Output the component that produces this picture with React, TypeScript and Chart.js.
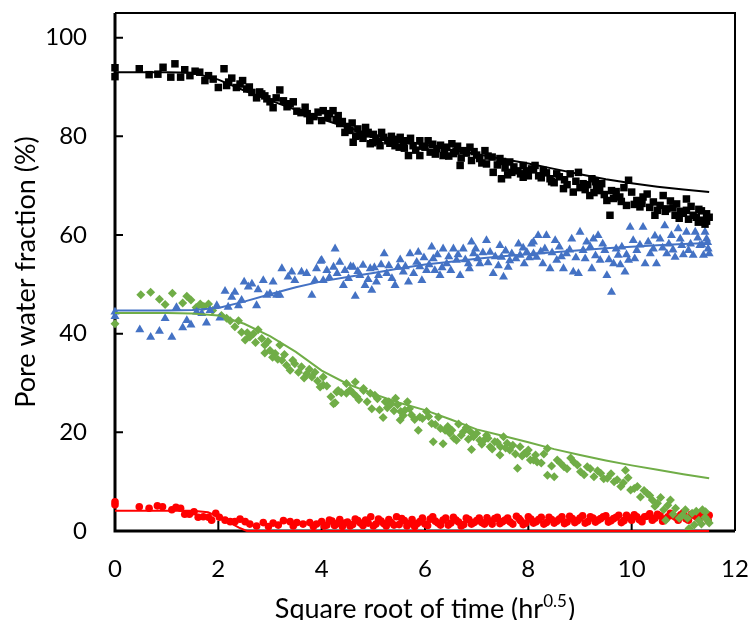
import React, { useEffect, useRef } from "react";
import { Chart, registerables } from "chart.js";
Chart.register(...registerables);

const xTicks = [0, 2, 4, 6, 8, 10, 12];
const yTicks = [0, 20, 40, 60, 80, 100];
const xTitleMain = "Square root of time (hr";
const xTitleSup = "0.5";
const xTitleEnd = ")";
const yTitle = "Pore water fraction (%)";

const blackPts: [number, number][] = [
  [0, 93.9], [0, 92.1], [0.47, 93.7], [0.66, 92.5], [0.83, 92.6], [0.93, 94.0], [1.08, 92.0], [1.16, 94.7], [1.27, 92.0], [1.35, 93.5],
  [1.45, 92.3], [1.55, 93.2], [1.64, 93.0], [1.74, 91.3], [1.81, 92.3], [1.9, 91.6], [2.0, 89.9], [2.11, 93.7], [2.16, 90.3], [2.26, 91.8],
  [2.35, 89.9], [2.47, 91.3], [2.55, 89.6], [2.65, 88.9], [2.74, 87.8], [2.84, 88.6], [2.94, 87.6], [3.06, 85.8], [3.19, 89.4], [3.26, 87.2],
  [3.39, 86.6], [3.52, 85.1], [3.68, 85.9], [3.77, 83.2], [3.93, 84.9], [4.0, 83.2], [4.03, 85.2], [4.12, 83.8], [4.22, 85.2], [4.32, 84.2],
  [4.35, 82.6], [4.45, 80.8], [4.5, 82.0], [4.59, 82.7], [4.61, 78.8], [4.7, 81.5], [4.74, 80.2], [4.87, 80.5], [4.9, 80.8], [4.94, 78.5],
  [4.99, 78.7], [5.05, 79.6], [5.13, 78.1], [5.16, 80.8], [5.28, 79.1], [5.35, 80.0], [5.42, 78.1], [5.52, 79.8], [5.6, 77.6], [5.65, 79.1],
  [5.68, 76.1], [5.77, 78.1], [5.9, 76.1], [5.9, 79.1], [6.0, 77.8], [6.06, 79.1], [6.1, 76.8], [6.23, 77.5], [6.3, 78.2], [6.35, 76.1],
  [6.42, 77.8], [6.52, 78.5], [6.55, 76.5], [6.6, 77.0], [6.68, 74.1], [6.74, 77.1], [6.87, 77.8], [6.9, 75.1], [7.0, 76.2], [7.06, 75.5],
  [7.16, 77.1], [7.19, 74.4], [7.3, 75.8], [7.32, 72.7], [7.45, 75.5], [7.48, 71.4], [7.55, 73.6], [7.64, 74.8], [7.68, 72.7], [7.8, 73.0],
  [7.9, 71.7], [7.9, 74.1], [8.06, 73.4], [8.13, 74.1], [8.2, 72.0], [8.29, 73.1], [8.42, 71.4], [8.5, 70.6], [8.55, 72.4], [8.68, 69.4],
  [8.7, 71.2], [8.81, 72.4], [8.87, 68.7], [8.97, 72.7], [9.06, 70.4], [9.1, 69.2], [9.19, 68.0], [9.23, 71.4], [9.3, 70.8], [9.32, 69.7],
  [9.42, 70.4], [9.52, 67.0], [9.58, 64.0], [9.61, 69.0], [9.7, 68.8], [9.77, 67.7], [9.85, 69.6], [9.9, 66.0], [9.94, 71.1], [10.0, 68.7],
  [10.1, 67.0], [10.16, 65.7], [10.22, 67.7], [10.3, 68.3], [10.42, 66.7], [10.45, 64.0], [10.55, 66.0], [10.61, 68.0], [10.68, 65.3], [10.75, 66.9],
  [10.84, 64.0], [10.87, 66.3], [10.95, 64.8], [11.06, 67.3], [11.06, 65.0], [11.15, 65.8], [11.19, 64.0], [11.29, 62.6], [11.35, 64.9], [11.39, 63.0],
  [11.42, 62.2], [11.45, 64.3], [11.5, 63.6],
  [4.15, 84.6], [4.28, 83.4], [4.4, 83.0], [4.55, 81.2], [4.66, 80.0], [4.8, 79.6], [4.85, 81.8], [5.0, 80.4], [5.1, 79.0], [5.2, 79.8],
  [5.32, 78.6], [5.45, 79.4], [5.5, 77.8], [5.58, 78.8], [5.72, 79.6], [5.82, 77.2], [5.95, 78.0], [6.15, 78.4], [6.2, 76.4], [6.38, 77.2],
  [6.46, 76.0], [6.63, 78.0], [6.7, 75.6], [6.8, 76.6], [6.95, 76.9], [7.1, 74.6], [7.22, 76.0], [7.4, 74.2], [7.5, 74.9], [7.6, 72.2],
  [7.72, 73.8], [7.85, 72.4], [7.96, 73.0], [8.0, 72.0], [8.1, 73.2], [8.25, 71.6], [8.35, 72.6], [8.45, 70.8], [8.6, 71.8], [8.75, 70.2],
  [8.92, 70.9], [9.0, 69.6], [9.15, 70.2], [9.27, 68.6], [9.38, 69.0], [9.47, 68.2], [9.65, 67.4], [9.8, 66.8], [10.05, 66.2], [10.2, 66.4],
  [10.35, 65.6], [10.5, 65.0], [10.65, 64.8], [10.8, 65.5], [10.92, 63.4], [11.0, 64.4], [11.1, 63.2], [11.25, 63.6], [11.3, 65.2], [11.45, 62.8],
  [2.2, 91.0], [2.42, 90.6], [2.6, 90.0], [2.8, 89.0], [2.9, 88.2], [3.0, 87.0], [3.12, 87.8], [3.33, 86.0], [3.45, 87.0], [3.6, 84.8],
  [3.72, 84.6], [3.85, 84.0],
];

const bluePts: [number, number][] = [
  [0, 44.4], [0, 43.5], [0.48, 40.8], [0.69, 39.3], [0.86, 40.5], [0.97, 43.1], [1.1, 39.3], [1.19, 45.3], [1.31, 41.2], [1.39, 42.7],
  [1.47, 41.8], [1.58, 44.4], [1.68, 44.1], [1.77, 42.2], [1.84, 44.7], [1.97, 45.7], [2.03, 43.2], [2.13, 48.6], [2.19, 45.4], [2.26, 47.4],
  [2.32, 48.4], [2.39, 45.7], [2.45, 46.8], [2.5, 50.5], [2.58, 49.5], [2.65, 50.1], [2.74, 45.7], [2.77, 48.9], [2.87, 50.8], [2.94, 47.8],
  [3.0, 48.1], [3.06, 50.5], [3.13, 47.8], [3.19, 47.8], [3.23, 53.2], [3.35, 51.5], [3.42, 52.5], [3.48, 50.8], [3.61, 52.5], [3.71, 52.2],
  [3.81, 47.8], [3.87, 50.8], [3.9, 53.2], [3.98, 54.7], [4.03, 50.8], [4.0, 54.9], [4.1, 52.8], [4.23, 53.5], [4.26, 57.2], [4.35, 54.5],
  [4.42, 49.8], [4.52, 51.2], [4.61, 53.5], [4.65, 47.6], [4.74, 51.8], [4.84, 49.8], [4.94, 53.2], [4.97, 48.8], [5.06, 50.5], [5.1, 51.8],
  [5.21, 56.2], [5.26, 52.2], [5.42, 49.8], [5.48, 53.5], [5.58, 52.5], [5.68, 50.5], [5.71, 56.2], [5.84, 54.5], [5.87, 56.5], [5.94, 50.8],
  [6.03, 52.8], [6.13, 57.6], [6.16, 55.2], [6.19, 52.8], [6.29, 51.8], [6.35, 57.2], [6.42, 54.2], [6.55, 57.2], [6.61, 54.9], [6.68, 51.8],
  [6.74, 57.2], [6.84, 54.2], [6.9, 58.6], [6.94, 56.2], [7.06, 54.2], [7.19, 58.9], [7.26, 56.5], [7.32, 52.2], [7.45, 57.9], [7.48, 55.5],
  [7.52, 51.5], [7.61, 53.5], [7.68, 56.2], [7.81, 58.2], [7.84, 55.9], [7.97, 56.5], [8.06, 58.2], [8.1, 56.2], [8.1, 58.6], [8.19, 59.9],
  [8.16, 55.5], [8.32, 57.2], [8.35, 59.9], [8.42, 53.2], [8.52, 58.9], [8.55, 54.9], [8.68, 53.2], [8.74, 56.2], [8.84, 59.2], [8.87, 52.5],
  [8.97, 52.2], [9.0, 60.6], [9.06, 56.9], [9.13, 58.6], [9.23, 53.2], [9.26, 59.2], [9.35, 59.9], [9.39, 54.9], [9.48, 56.9], [9.52, 51.8],
  [9.61, 48.4], [9.65, 54.2], [9.74, 55.9], [9.81, 57.6], [9.87, 52.5], [9.94, 54.9], [9.97, 61.6], [10.03, 58.9], [10.1, 56.9], [10.22, 61.6],
  [10.26, 54.2], [10.32, 58.6], [10.42, 57.2], [10.48, 54.2], [10.55, 59.2], [10.64, 61.9], [10.68, 56.2], [10.77, 59.9], [10.84, 55.5], [10.9, 61.3],
  [10.97, 57.9], [11.06, 60.6], [11.1, 56.9], [11.19, 55.9], [11.23, 60.6], [11.32, 57.9], [11.39, 55.9], [11.42, 60.6], [11.45, 59.2], [11.48, 57.2],
  [11.5, 56.2], [11.47, 58.5],
  [4.15, 51.4], [4.3, 52.2], [4.45, 52.8], [4.56, 53.6], [4.7, 52.6], [4.8, 53.9], [4.9, 51.0], [5.02, 53.4], [5.15, 54.0], [5.3, 53.8],
  [5.36, 51.2], [5.52, 55.0], [5.62, 53.6], [5.78, 52.2], [5.9, 53.6], [5.98, 55.4], [6.08, 54.0], [6.24, 56.0], [6.33, 53.4], [6.46, 55.6],
  [6.5, 52.8], [6.64, 56.0], [6.78, 55.0], [6.86, 53.2], [6.98, 57.2], [7.02, 55.2], [7.12, 56.4], [7.22, 54.4], [7.36, 55.6], [7.42, 53.8],
  [7.56, 56.8], [7.64, 54.8], [7.76, 55.2], [7.9, 57.4], [7.92, 54.2], [8.02, 55.4], [8.24, 56.6], [8.28, 54.2], [8.46, 56.4], [8.6, 57.6],
  [8.64, 55.6], [8.8, 57.0], [8.92, 55.4], [9.1, 55.2], [9.2, 57.6], [9.3, 55.8], [9.44, 58.2], [9.56, 55.0], [9.7, 57.2], [9.78, 54.0],
  [9.9, 56.0], [10.06, 55.2], [10.16, 58.0], [10.36, 56.2], [10.45, 59.8], [10.6, 57.4], [10.72, 58.2], [10.8, 57.0], [10.94, 59.2], [11.0, 56.0],
  [11.14, 58.2], [11.28, 59.4], [11.36, 58.0],
];

const greenPts: [number, number][] = [
  [0, 42.0], [0.5, 47.9], [0.69, 48.4], [0.86, 47.0], [0.97, 45.9], [1.11, 48.2], [1.31, 46.2], [1.39, 47.6], [1.47, 46.8], [1.57, 45.3],
  [1.65, 46.0], [1.72, 45.5], [1.81, 46.0], [1.89, 44.7], [2.06, 43.7], [2.16, 43.1], [2.23, 42.6], [2.32, 41.4], [2.39, 42.6], [2.45, 40.3],
  [2.52, 38.7], [2.61, 39.3], [2.68, 40.0], [2.77, 40.8], [2.84, 39.0], [2.9, 37.7], [2.9, 36.1], [3.0, 36.6], [3.1, 36.0], [3.19, 37.7],
  [3.23, 34.6], [3.32, 33.6], [3.39, 32.6], [3.48, 33.9], [3.55, 32.2], [3.61, 33.3], [3.71, 31.9], [3.81, 31.2], [3.87, 32.2], [3.97, 29.2],
  [4.03, 31.2], [4.03, 29.6], [4.23, 25.8], [4.26, 26.0], [4.29, 28.2], [4.32, 28.5], [4.48, 29.9], [4.48, 27.9], [4.61, 27.9], [4.65, 30.2],
  [4.68, 27.2], [4.81, 28.9], [4.81, 28.5], [4.94, 27.9], [4.97, 24.8], [5.03, 27.5], [5.19, 23.0], [5.23, 26.2], [5.3, 26.2], [5.35, 25.8],
  [5.43, 26.9], [5.52, 22.5], [5.53, 24.2], [5.61, 24.5], [5.66, 26.2], [5.74, 23.5], [5.87, 20.4], [5.9, 23.1], [6.03, 24.2], [6.13, 21.8],
  [6.16, 18.1], [6.26, 23.1], [6.35, 17.7], [6.39, 20.4], [6.48, 19.8], [6.56, 18.8], [6.61, 18.4], [6.65, 21.7], [6.74, 20.1], [6.88, 20.1],
  [6.9, 16.5], [6.94, 19.1], [7.06, 18.4], [7.14, 18.4], [7.19, 19.4], [7.26, 17.1], [7.35, 18.1], [7.45, 15.4], [7.46, 17.1], [7.52, 19.1],
  [7.59, 17.8], [7.64, 16.4], [7.79, 12.7], [7.84, 17.1], [7.92, 15.7], [7.97, 15.7], [8.04, 14.4], [8.1, 14.4], [8.17, 14.0], [8.37, 16.7],
  [8.37, 11.3], [8.5, 11.0], [8.56, 14.4], [8.69, 13.0], [8.88, 14.0], [9.01, 12.0], [9.14, 13.0], [9.27, 11.0], [9.4, 11.7], [9.53, 10.7],
  [9.66, 10.0], [9.79, 9.0], [9.88, 12.3], [9.98, 8.3], [10.11, 9.0], [10.17, 6.9], [10.3, 7.6], [10.4, 6.3], [10.5, 5.6], [10.62, 4.3],
  [10.66, 2.2], [10.75, 6.3], [10.85, 4.6], [10.92, 2.6], [11.04, 4.3], [11.11, 0.5], [11.17, 3.6], [11.21, 1.2], [11.3, 2.2], [11.37, 4.3],
  [11.43, 3.9], [11.47, 2.2], [11.5, 1.6],
  [4.1, 29.4], [4.18, 27.2], [4.38, 28.0], [4.55, 28.6], [4.72, 26.6], [4.88, 26.2], [5.08, 26.8], [5.12, 24.6], [5.27, 25.0], [5.4, 24.4],
  [5.47, 25.6], [5.58, 23.4], [5.7, 24.8], [5.8, 22.6], [5.95, 22.8], [6.07, 23.2], [6.2, 21.6], [6.3, 20.8], [6.44, 21.2], [6.52, 20.4],
  [6.7, 19.4], [6.8, 21.0], [6.84, 18.6], [7.0, 19.8], [7.1, 17.6], [7.22, 18.8], [7.3, 16.6], [7.4, 18.0], [7.56, 16.8], [7.7, 17.4],
  [7.75, 15.6], [7.88, 15.2], [8.0, 16.4], [8.14, 15.4], [8.25, 13.8], [8.3, 15.6], [8.45, 13.2], [8.62, 13.8], [8.75, 12.6], [8.82, 14.8],
  [8.95, 13.4], [9.08, 11.4], [9.2, 12.6], [9.34, 12.2], [9.46, 10.6], [9.6, 11.6], [9.72, 10.4], [9.84, 9.8], [9.93, 10.8], [10.05, 8.6],
  [10.24, 8.2], [10.35, 7.2], [10.45, 5.0], [10.56, 6.8], [10.7, 5.2], [10.8, 3.4], [10.98, 3.2], [11.08, 2.6], [11.25, 4.0], [11.35, 1.4],
  [11.42, 2.8], [2.56, 40.2], [2.72, 38.2], [2.96, 38.4], [3.05, 35.2], [3.15, 34.8], [3.28, 35.8], [3.44, 34.6], [3.66, 31.0], [3.76, 32.8],
  [3.92, 30.4],
];

const redPts: [number, number][] = [
  [0, 5.9], [0, 5.3], [0.47, 4.9], [0.66, 4.6], [0.82, 5.1], [0.92, 4.9], [1.1, 4.3], [1.18, 4.8], [1.27, 4.6], [1.35, 3.4],
  [1.44, 3.4], [1.53, 3.9], [1.61, 2.8], [1.71, 2.9], [1.81, 2.8], [1.87, 2.2], [1.95, 3.6], [2.02, 2.8], [2.13, 2.2], [2.23, 1.9],
  [2.32, 1.9], [2.42, 2.4], [2.52, 1.9], [2.61, 1.4], [2.74, 1.0], [2.87, 1.7], [2.97, 0.9], [3.06, 1.6], [3.16, 1.2], [3.26, 2.1],
  [3.39, 1.9], [3.45, 1.0], [3.52, 1.7], [3.64, 1.4], [3.77, 1.7], [3.84, 0.9], [3.9, 1.4], [4.0, 1.9], [4.1, 1.2], [4.2, 2.0],
  [4.3, 1.5], [4.4, 0.9], [4.5, 1.8], [4.6, 1.3], [4.7, 2.1], [4.8, 1.1], [4.9, 1.6], [4.95, 2.9], [5.05, 1.4], [5.15, 2.0],
  [5.25, 1.0], [5.35, 1.7], [5.45, 2.9], [5.5, 1.3], [5.6, 2.1], [5.7, 1.5], [5.8, 0.9], [5.9, 1.9], [6.0, 1.4], [6.1, 2.4],
  [6.15, 2.9], [6.25, 1.6], [6.35, 2.2], [6.45, 1.2], [6.55, 2.8], [6.65, 1.8], [6.75, 1.3], [6.85, 2.3], [6.95, 1.7], [7.05, 2.6],
  [7.15, 1.4], [7.25, 2.0], [7.35, 2.5], [7.45, 1.5], [7.55, 2.2], [7.65, 1.8], [7.77, 3.0], [7.85, 2.1], [7.95, 1.6], [8.05, 2.4],
  [8.15, 1.9], [8.25, 2.8], [8.35, 1.7], [8.45, 2.3], [8.55, 2.0], [8.65, 2.9], [8.75, 1.8], [8.85, 2.5], [8.95, 2.1], [9.05, 3.1],
  [9.15, 1.9], [9.25, 2.6], [9.35, 2.2], [9.45, 2.9], [9.55, 1.8], [9.65, 2.5], [9.75, 3.2], [9.85, 2.1], [9.95, 2.7], [10.05, 3.3],
  [10.15, 2.3], [10.25, 2.9], [10.35, 3.5], [10.45, 2.6], [10.55, 3.1], [10.65, 2.4], [10.75, 3.6], [10.85, 2.8], [10.95, 3.3], [11.05, 2.5],
  [11.15, 3.4], [11.25, 2.9], [11.35, 3.6], [11.45, 2.7], [11.5, 3.2],
  [4.05, 1.0], [4.15, 2.2], [4.25, 1.1], [4.35, 2.3], [4.45, 1.6], [4.55, 1.0], [4.65, 2.4], [4.75, 1.6], [4.85, 2.2], [5.0, 1.0],
  [5.1, 2.4], [5.2, 1.5], [5.3, 2.3], [5.4, 1.2], [5.55, 2.5], [5.65, 1.0], [5.75, 2.3], [5.85, 1.5], [5.95, 2.6], [6.05, 1.1],
  [6.2, 2.0], [6.3, 1.2], [6.4, 2.6], [6.5, 1.6], [6.6, 2.2], [6.7, 1.0], [6.8, 2.6], [6.9, 1.4], [7.0, 2.1], [7.1, 1.7],
  [7.2, 2.7], [7.3, 1.4], [7.4, 2.8], [7.5, 1.9], [7.6, 2.6], [7.7, 1.4], [7.82, 2.5], [7.9, 1.3], [8.0, 2.9], [8.1, 1.6],
  [8.2, 2.3], [8.3, 1.4], [8.4, 2.8], [8.5, 1.6], [8.6, 2.4], [8.7, 1.5], [8.8, 3.0], [8.9, 1.7], [9.0, 2.6], [9.1, 1.6],
  [9.2, 2.9], [9.3, 1.8], [9.4, 2.5], [9.5, 3.1], [9.6, 2.1], [9.7, 2.8], [9.8, 1.7], [9.9, 3.2], [10.0, 2.2], [10.1, 2.9],
  [10.2, 1.9], [10.3, 3.0], [10.4, 2.2], [10.5, 3.4], [10.6, 2.0], [10.7, 2.9], [10.8, 3.1], [10.9, 2.2], [11.0, 3.7], [11.1, 2.2],
  [11.2, 3.2], [11.3, 2.4], [11.4, 3.3], [11.48, 2.2],
];

const fitX = [0, 0.5, 1, 1.5, 2, 2.5, 3, 3.5, 4, 4.5, 5, 5.5, 6, 6.5, 7, 7.5, 8, 8.5, 9, 9.5, 10, 10.5, 11, 11.5];
const blackFitY = [93.0, 93.0, 93.0, 92.9, 91.5, 89.3, 87.3, 85.4, 83.5, 81.8, 80.3, 79.2, 78.3, 77.3, 76.4, 75.4, 74.5, 73.4, 72.3, 71.3, 70.5, 69.8, 69.2, 68.7];
const blueFitY = [44.7, 44.7, 44.7, 44.8, 45.2, 46.5, 48.0, 49.4, 50.6, 51.5, 52.3, 53.2, 54.0, 54.6, 55.2, 55.7, 56.1, 56.5, 56.9, 57.3, 57.6, 57.9, 58.2, 58.4];
const greenFitY = [44.2, 44.2, 44.2, 44.1, 43.7, 42.0, 39.5, 36.3, 32.5, 29.8, 27.8, 26.0, 24.5, 22.6, 20.6, 19.3, 18.0, 16.6, 15.4, 14.3, 13.3, 12.4, 11.5, 10.7];
const redFitX = [0, 1.5, 1.8, 2.0, 2.2, 2.4, 2.55, 4, 6, 8, 10, 11.5];
const redFitY = [4.1, 4.1, 3.8, 2.9, 1.8, 0.7, 0, 0, 0, 0, 0, 0];

const FONT = "Lato, 'Open Sans', sans-serif";

const toXY = (pts: [number, number][]) => pts.map(([x, y]) => ({ x, y }));
const zip = (xs: number[], ys: number[]) => xs.map((x, i) => ({ x, y: ys[i] }));

const framePlugin = {
  id: "frame",
  beforeDatasetsDraw(chart: any) {
    const { ctx, chartArea } = chart;
    const { left, right, top, bottom } = chartArea;
    const xs = chart.scales.x;
    const ys = chart.scales.y;
    ctx.save();
    ctx.strokeStyle = "#000";
    ctx.lineWidth = 2;
    ctx.beginPath();
    ctx.moveTo(left, top);
    ctx.lineTo(right, top);
    ctx.lineTo(right, bottom);
    ctx.stroke();
    ctx.lineWidth = 3;
    ctx.beginPath();
    ctx.moveTo(left, top);
    ctx.lineTo(left, bottom);
    ctx.lineTo(right, bottom);
    ctx.stroke();
    ctx.lineWidth = 2;
    ctx.beginPath();
    yTicks.forEach((v) => {
      const p = ys.getPixelForValue(v);
      ctx.moveTo(left, p);
      ctx.lineTo(left + 8, p);
    });
    xTicks.forEach((v) => {
      const p = xs.getPixelForValue(v);
      ctx.moveTo(p, bottom);
      ctx.lineTo(p, bottom - 10);
    });
    ctx.stroke();
    ctx.restore();
  },
  afterDraw(chart: any) {
    const { ctx, chartArea } = chart;
    const { left, right, top, bottom } = chartArea;
    ctx.save();
    ctx.fillStyle = "#000";
    ctx.font = `27px ${FONT}`;
    ctx.translate(26, (top + bottom) / 2);
    ctx.rotate(-Math.PI / 2);
    ctx.textAlign = "center";
    ctx.textBaseline = "middle";
    ctx.fillText(yTitle, 0, 0);
    ctx.restore();
    ctx.save();
    ctx.fillStyle = "#000";
    const mainFont = `27px ${FONT}`;
    const supFont = `17px ${FONT}`;
    ctx.font = mainFont;
    const w1 = ctx.measureText(xTitleMain).width;
    const w3 = ctx.measureText(xTitleEnd).width;
    ctx.font = supFont;
    const w2 = ctx.measureText(xTitleSup).width;
    const total = w1 + w2 + w3 + 1;
    let x = (left + right) / 2 - total / 2;
    const base = 618;
    ctx.textAlign = "left";
    ctx.textBaseline = "alphabetic";
    ctx.font = mainFont;
    ctx.fillText(xTitleMain, x, base);
    x += w1;
    ctx.font = supFont;
    ctx.fillText(xTitleSup, x, base - 11);
    x += w2 + 1;
    ctx.font = mainFont;
    ctx.fillText(xTitleEnd, x, base);
    ctx.restore();
  },
};

const noPad = (s: any) => {
  s.paddingTop = 0;
  s.paddingBottom = 0;
  s.paddingLeft = 0;
  s.paddingRight = 0;
};

export default function App() {
  const ref = useRef<HTMLCanvasElement | null>(null);
  useEffect(() => {
    if (!ref.current) return;
    const pointDs = (label: string, pts: [number, number][], color: string, style: string, r: number, order: number) => ({
      label,
      data: toXY(pts),
      showLine: false,
      pointStyle: style,
      pointRadius: r,
      pointBackgroundColor: color,
      pointBorderColor: color,
      pointBorderWidth: 0,
      backgroundColor: color,
      borderColor: color,
      clip: false,
      order,
    });
    const lineDs = (label: string, data: { x: number; y: number }[], color: string) => ({
      label,
      data,
      showLine: true,
      pointRadius: 0,
      borderColor: color,
      borderWidth: 2,
      fill: false,
      clip: false,
      order: 0,
    });
    const chart = new Chart(ref.current, {
      type: "scatter",
      data: {
        datasets: [
          lineDs("Black fit", zip(fitX, blackFitY), "#000000"),
          lineDs("Blue fit", zip(fitX, blueFitY), "#4472C4"),
          lineDs("Green fit", zip(fitX, greenFitY), "#70AD47"),
          lineDs("Red fit", zip(redFitX, redFitY), "#FF0000"),
          pointDs("Black", blackPts, "#000000", "rect", 5.3, 1),
          pointDs("Blue", bluePts, "#4472C4", "triangle", 5.2, 2),
          pointDs("Green", greenPts, "#70AD47", "rectRot", 4.5, 3),
          pointDs("Red", redPts, "#FF0000", "circle", 3.8, 4),
        ],
      } as any,
      options: {
        animation: false,
        responsive: true,
        maintainAspectRatio: false,
        layout: { padding: { left: 0, top: 13, right: 13, bottom: 0 } },
        plugins: { legend: { display: false }, tooltip: { enabled: false } },
        scales: {
          x: {
            type: "linear",
            min: 0,
            max: 12,
            afterBuildTicks: (s: any) => {
              s.ticks = xTicks.map((v) => ({ value: v }));
            },
            afterFit: (s: any) => {
              s.height = 89;
              noPad(s);
            },
            grid: { display: false, drawTicks: false },
            border: { display: false },
            ticks: { color: "#000", font: { family: FONT, size: 24 }, padding: 24, maxRotation: 0 },
          },
          y: {
            type: "linear",
            min: 0,
            max: 105,
            afterBuildTicks: (s: any) => {
              s.ticks = yTicks.map((v) => ({ value: v }));
            },
            afterFit: (s: any) => {
              s.width = 115;
              noPad(s);
            },
            grid: { display: false, drawTicks: false },
            border: { display: false },
            ticks: { color: "#000", font: { family: FONT, size: 24 }, padding: 28 },
          },
        },
      } as any,
      plugins: [framePlugin],
    });
    return () => chart.destroy();
  }, []);
  return (
    <div style={{ position: "absolute", left: 0, top: 0, width: 748, height: 620, background: "#fff" }}>
      <canvas ref={ref} />
    </div>
  );
}
